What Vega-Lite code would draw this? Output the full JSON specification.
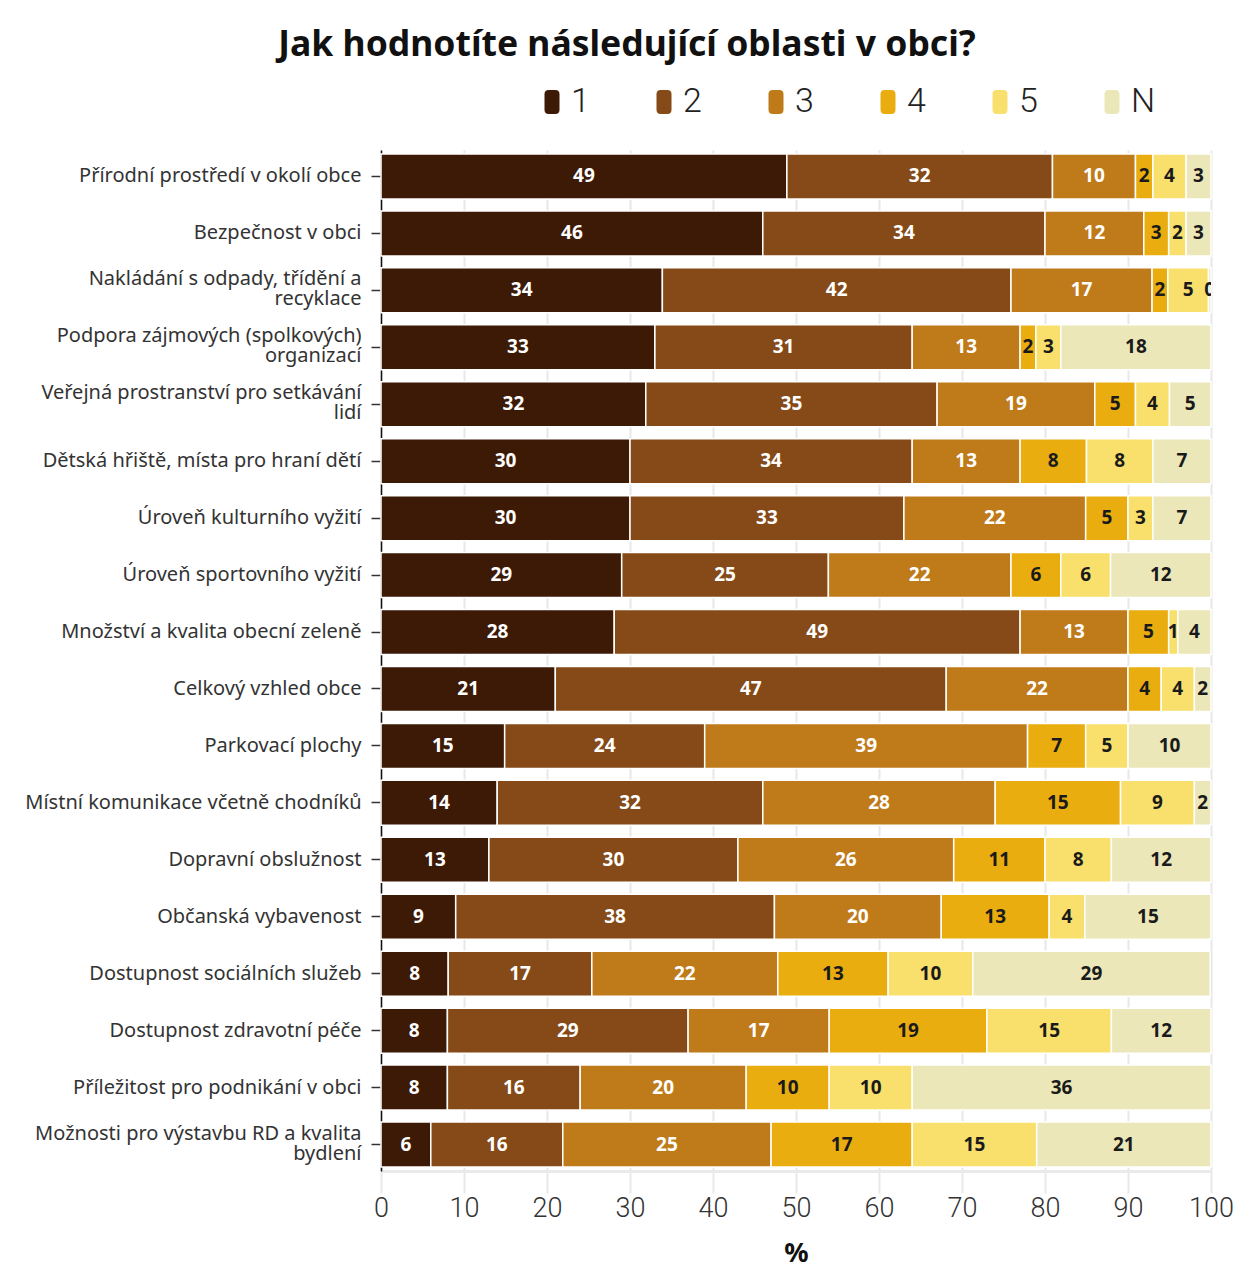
{
  "$schema": "https://vega.github.io/schema/vega-lite/v6.json",
  "autosize": {"type": "none"},
  "padding": {"left": 381, "top": 150, "right": 29, "bottom": 100},
  "width": 830,
  "height": 1021,
  "background": "white",
  "title": {
    "text": "Jak hodnotíte následující oblasti v obci?",
    "font": "Noto Sans",
    "fontSize": 35.5,
    "fontWeight": "bold",
    "color": "#111",
    "anchor": "middle",
    "frame": "group",
    "offset": 22,
    "dx": -169
  },
  "data": {
    "values": [
      {"oblast": "Přírodní prostředí v okolí obce", "1": 48.9, "2": 32.0, "3": 10.0, "4": 2.1, "5": 4.0, "N": 3.0},
      {"oblast": "Bezpečnost v obci", "1": 46.0, "2": 34.0, "3": 11.9, "4": 3.0, "5": 2.1, "N": 3.0},
      {"oblast": "Nakládání s odpady, třídění a recyklace", "1": 33.9, "2": 42.0, "3": 17.0, "4": 1.9, "5": 4.9, "N": 0.3},
      {"oblast": "Podpora zájmových (spolkových) organizací", "1": 33.0, "2": 31.0, "3": 13.0, "4": 1.9, "5": 3.0, "N": 18.1},
      {"oblast": "Veřejná prostranství pro setkávání lidí", "1": 31.9, "2": 35.1, "3": 19.0, "4": 4.9, "5": 4.1, "N": 5.0},
      {"oblast": "Dětská hřiště, místa pro hraní dětí", "1": 30.0, "2": 34.0, "3": 13.0, "4": 8.0, "5": 8.0, "N": 7.0},
      {"oblast": "Úroveň kulturního vyžití", "1": 30.0, "2": 33.0, "3": 21.9, "4": 5.1, "5": 3.0, "N": 7.0},
      {"oblast": "Úroveň sportovního vyžití", "1": 29.0, "2": 24.9, "3": 22.0, "4": 6.0, "5": 6.0, "N": 12.1},
      {"oblast": "Množství a kvalita obecní zeleně", "1": 28.1, "2": 48.9, "3": 13.0, "4": 4.9, "5": 1.1, "N": 4.0},
      {"oblast": "Celkový vzhled obce", "1": 21.0, "2": 47.1, "3": 21.9, "4": 4.0, "5": 4.0, "N": 2.0},
      {"oblast": "Parkovací plochy", "1": 14.9, "2": 24.1, "3": 38.9, "4": 7.0, "5": 5.1, "N": 10.0},
      {"oblast": "Místní komunikace včetně chodníků", "1": 14.0, "2": 32.0, "3": 28.0, "4": 15.1, "5": 8.9, "N": 2.0},
      {"oblast": "Dopravní obslužnost", "1": 13.0, "2": 30.0, "3": 26.0, "4": 11.0, "5": 8.0, "N": 12.0},
      {"oblast": "Občanská vybavenost", "1": 9.0, "2": 38.4, "3": 20.1, "4": 13.0, "5": 4.3, "N": 15.2},
      {"oblast": "Dostupnost sociálních služeb", "1": 8.1, "2": 17.3, "3": 22.4, "4": 13.3, "5": 10.2, "N": 28.6},
      {"oblast": "Dostupnost zdravotní péče", "1": 8.0, "2": 29.0, "3": 17.0, "4": 19.0, "5": 15.0, "N": 12.0},
      {"oblast": "Příležitost pro podnikání v obci", "1": 8.0, "2": 16.0, "3": 20.0, "4": 10.0, "5": 10.0, "N": 36.0},
      {"oblast": "Možnosti pro výstavbu RD a kvalita bydlení", "1": 6.0, "2": 15.9, "3": 25.1, "4": 17.0, "5": 15.0, "N": 21.0}
    ]
  },
  "transform": [
    {"fold": ["1", "2", "3", "4", "5", "N"], "as": ["hodnoceni", "podil"]}
  ],
  "encoding": {
    "y": {
      "field": "oblast",
      "type": "nominal",
      "sort": null,
      "scale": {"paddingInner": 0.21, "paddingOuter": 0.07},
      "axis": {
        "title": null,
        "domainColor": "#111",
        "domainWidth": 1.5,
        "tickColor": "#333",
        "tickSize": 10,
        "tickWidth": 1.5,
        "labelFont": "Noto Sans",
        "labelFontSize": 20,
        "labelColor": "#333",
        "labelPadding": 10,
        "labelLimit": 420,
        "labelLineHeight": 20,
        "labelOffset": {
          "condition": {"test": "indexof(['Nakládání s odpady, třídění a recyklace', 'Podpora zájmových (spolkových) organizací', 'Veřejná prostranství pro setkávání lidí', 'Možnosti pro výstavbu RD a kvalita bydlení'], datum.value) >= 0", "value": -11},
          "value": 0
        },
        "labelExpr": "datum.label == 'Nakládání s odpady, třídění a recyklace' ? ['Nakládání s odpady, třídění a', 'recyklace'] : datum.label == 'Podpora zájmových (spolkových) organizací' ? ['Podpora zájmových (spolkových)', 'organizací'] : datum.label == 'Veřejná prostranství pro setkávání lidí' ? ['Veřejná prostranství pro setkávání', 'lidí'] : datum.label == 'Možnosti pro výstavbu RD a kvalita bydlení' ? ['Možnosti pro výstavbu RD a kvalita', 'bydlení'] : datum.label"
      }
    }
  },
  "layer": [
    {
      "mark": {"type": "bar", "stroke": "white", "strokeWidth": 1.5},
      "encoding": {
        "x": {
          "field": "podil",
          "type": "quantitative",
          "stack": "zero",
          "scale": {"domain": [0, 100], "nice": false},
          "axis": {
            "values": [0, 10, 20, 30, 40, 50, 60, 70, 80, 90, 100],
            "title": "%",
            "titleFont": "Noto Sans",
            "titleFontSize": 27,
            "titleFontWeight": "bold",
            "titleColor": "#111",
            "titlePadding": 19,
            "grid": true,
            "gridColor": "#e8e8e8",
            "gridWidth": 2,
            "domainColor": "#eaeaea",
            "domainWidth": 3,
            "tickColor": "#e8e8e8",
            "tickWidth": 2,
            "tickSize": 22,
            "labelFont": "Roboto",
            "labelFontWeight": 300,
            "labelFontSize": 27,
            "labelColor": "#333",
            "labelPadding": 2,
            "labelFlush": false,
            "labelOverlap": false
          }
        },
        "color": {
          "field": "hodnoceni",
          "type": "nominal",
          "scale": {
            "domain": ["1", "2", "3", "4", "5", "N"],
            "range": ["#3d1a05", "#854a17", "#bf7a1a", "#e9ad10", "#f9e06d", "#ebe7b9"]
          },
          "legend": {
            "title": null,
            "orient": "none",
            "direction": "horizontal",
            "legendX": 154,
            "legendY": -65,
            "padding": 0,
            "symbolType": "M-0.275,-1 L0.275,-1 Q0.625,-1 0.625,-0.65 L0.625,0.65 Q0.625,1 0.275,1 L-0.275,1 Q-0.625,1 -0.625,0.65 L-0.625,-0.65 Q-0.625,-1 -0.275,-1 Z",
            "symbolSize": 576,
            "symbolStrokeWidth": 0,
            "symbolOpacity": 1,
            "labelFont": "Roboto",
            "labelFontWeight": 300,
            "labelFontSize": 34,
            "labelColor": "#222",
            "labelOffset": 2,
            "columnPadding": 57
          }
        },
        "order": {"field": "hodnoceni"}
      }
    },
    {
      "mark": {"type": "text", "font": "Noto Sans", "fontSize": 19, "fontWeight": "bold", "baseline": "middle", "align": "center", "clip": true},
      "encoding": {
        "x": {"field": "podil", "type": "quantitative", "stack": "zero", "bandPosition": 0.5},
        "text": {"field": "podil", "type": "quantitative", "format": ".0f"},
        "detail": {"field": "hodnoceni"},
        "order": {"field": "hodnoceni"},
        "color": {
          "condition": {"test": "datum.hodnoceni == '1' || datum.hodnoceni == '2' || datum.hodnoceni == '3'", "value": "white"},
          "value": "#1a1a1a"
        }
      }
    }
  ],
  "config": {
    "view": {"stroke": null}
  }
}
